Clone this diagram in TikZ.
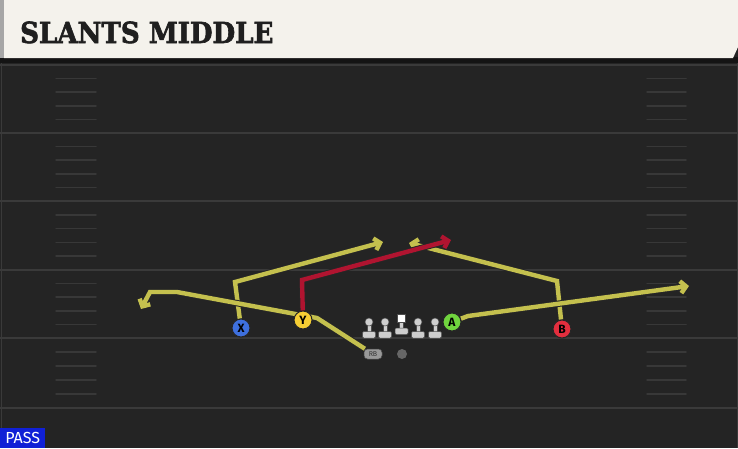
\documentclass[tikz,border=0pt]{standalone}
\usepackage{fontspec}
\usetikzlibrary{arrows.meta}
\newfontfamily\titlefont[FakeBold=2.2]{DejaVu Serif}
\newfontfamily\labelfont{Fira Sans}
\definecolor{fld}{RGB}{36,36,36}
\definecolor{yd}{RGB}{58,58,58}
\definecolor{hm}{RGB}{56,56,56}
\definecolor{ban}{RGB}{244,242,236}
\definecolor{rte}{RGB}{196,192,78}
\definecolor{rtr}{RGB}{176,20,48}
\definecolor{px}{RGB}{62,112,222}
\definecolor{py}{RGB}{246,206,52}
\definecolor{pa}{RGB}{112,212,62}
\definecolor{pb}{RGB}{226,46,62}
\definecolor{ln}{RGB}{206,206,206}
\definecolor{passb}{RGB}{16,32,214}

\begin{document}
\begin{tikzpicture} [
    x=1pt, y=-1pt,
    pl/.style={
        circle, draw=black!85, line width=1pt,
        minimum size=18pt, inner sep=0pt,
        font=\labelfont\bfseries\fontsize{12}{12}\selectfont
    },
    rt/.style={
        draw=rte, line width=4.4pt, line join=miter,
        preaction={draw=black!85, line width=6.4pt},
        -{Straight Barb[length=5.5pt,width=12pt]}
    },
    hash/.style={draw=hm, line width=1.5pt, line cap=round},
    lhead/.style={circle, fill=ln, draw=black!70, line width=0.5pt,
        minimum size=8pt, inner sep=0pt}
]

\pgfdeclarelayer{field}
\pgfdeclarelayer{background}
\pgfsetlayers{field,background,main}

\useasboundingbox (0,0) rectangle (738,448);

% players
\node [pl,fill=px] (x) at (241,328) {X};
\node [pl,fill=py] (y) at (303,320) {Y};
\node [pl,fill=pa] (a) at (452,322) {A};
\node [pl,fill=pb] (b) at (562,329) {B};

\node [fill=black!40!white, draw=black!70, line width=0.5pt, rounded corners=3.5pt,
    minimum width=18pt, minimum height=10pt, inner sep=0pt,
    font=\labelfont\fontsize{7}{7}\selectfont, text=black!80] (rb) at (373,354) {RB};
\node [circle, fill=black!60!white, minimum size=10pt, inner sep=0pt] (qb) at (402,354) {};

% line
\foreach \n/\px in {lt/369, lg/385, rg/418, rtk/435} {
    \fill [ln, draw=black!70, line width=0.5pt] (\px-2.2,322) rectangle (\px+2.2,333);
    \fill [ln, draw=black!70, line width=0.5pt, rounded corners=1.2pt] (\px-6.5,331.5) rectangle (\px+6.5,338);
    \node [lhead] (\n) at (\px,322) {};
}
\fill [ln, draw=black!70, line width=0.5pt] (399.3,321) rectangle (403.7,329);
\fill [ln, draw=black!70, line width=0.5pt, rounded corners=1.2pt] (395,328) rectangle (408,334.5);
\node [fill=white, draw=black!70, line width=0.5pt, minimum width=8pt, minimum height=8.5pt,
    inner sep=0pt] (c) at (401.5,318) {};

\coordinate (xc) at (235,282);  \coordinate (xe) at (383,242);
\coordinate (yc) at (302,280);  \coordinate (ye) at (451,240);
\coordinate (bc) at (557,281);  \coordinate (be) at (409,243);
\coordinate (ac) at (468,316);  \coordinate (ae) at (689,286);
\coordinate (rbc) at (317,318); \coordinate (rbd) at (177,292);
\coordinate (rbf) at (150,292); \coordinate (rbe) at (141,309);

\begin{pgfonlayer}{background}
\draw [rt] (x) -- (xc) -- (xe);
\draw [rt] (b) -- (bc) -- (be);
\draw [rt] (a) -- (ac) -- (ae);
\draw [rt] (rb) -- (rbc) -- (rbd) -- (rbf) -- (rbe);
\draw [rt,draw=rtr] (y) -- (yc) -- (ye);
\end{pgfonlayer}

\begin{pgfonlayer}{field}
\fill [fld] (0,0) rectangle (738,448);
\fill [black!92] (0,57) rectangle (738,63);
\draw [yd, line width=1pt] (1,63) -- (1,448);
\draw [yd, line width=1pt] (737,63) -- (737,448);
\foreach \ya in {65,133,201,270,338,408}
    \draw [yd, line width=2pt] (0,\ya) -- (738,\ya);
\foreach \ya/\yb in {65/133,133/201,201/270,270/338,338/408}
    \foreach \k in {1,...,4} {
        \draw [hash] (56,{\ya+(\yb-\ya)*\k/5}) -- (96,{\ya+(\yb-\ya)*\k/5});
        \draw [hash] (647,{\ya+(\yb-\ya)*\k/5}) -- (686,{\ya+(\yb-\ya)*\k/5});
    }
\fill [ban] (4,0) -- (738,0) -- (738,47) -- (733,58) -- (4,58) -- cycle;
\fill [black!35] (0,0) rectangle (4,58);
\end{pgfonlayer}

\node [anchor=base west, inner sep=0pt, xscale=0.9,
    font=\titlefont\bfseries\fontsize{29}{29}\selectfont, text=black!88] (title) at (20,43) {SLANTS MIDDLE};

\node [anchor=south west, fill=passb, text=white, minimum width=45pt, minimum height=20pt,
    inner sep=0pt, font=\labelfont\fontsize{16}{16}\selectfont] (pass) at (0,448) {PASS};

\end{tikzpicture}
\end{document}
